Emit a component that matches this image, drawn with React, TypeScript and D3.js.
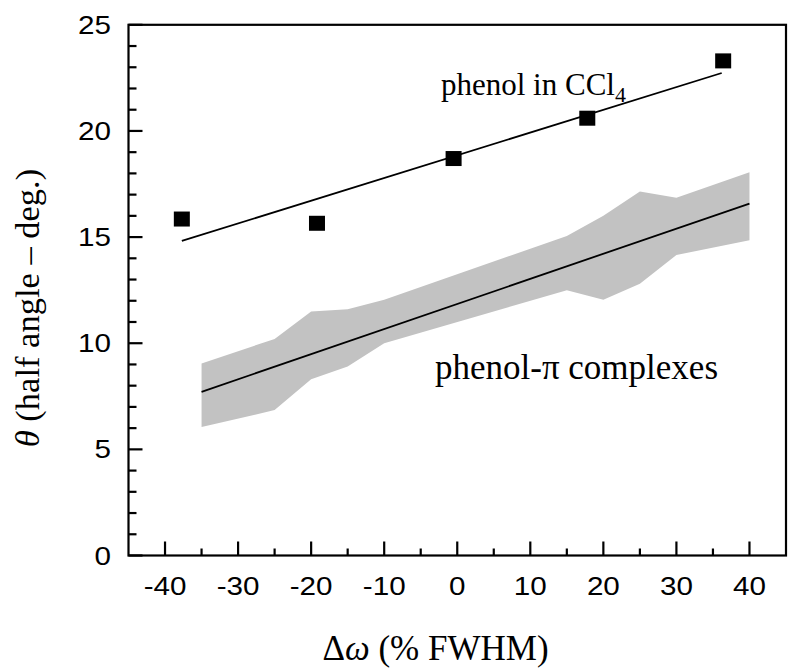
import React from "react";
import * as d3 from "d3";

const phenolX = [-37.7, -19.2, -0.5, 17.8, 36.4];
const phenolY = [15.85, 15.65, 18.7, 20.6, 23.3];
const phenolFitX = [-37.7, 36.2];
const phenolFitY = [14.82, 22.73];

const bandX = [-35, -25, -20, -15, -10, 15, 20, 25, 30, 40];
const bandLow = [6.05, 6.85, 8.3, 8.9, 10.0, 12.5, 12.05, 12.8, 14.15, 14.85];
const bandHigh = [9.05, 10.2, 11.5, 11.6, 12.05, 15.05, 16.0, 17.15, 16.85, 18.05];
const complexFitX = [-35, 40];
const complexFitY = [7.71, 16.58];

const xTicks = [-40, -30, -20, -10, 0, 10, 20, 30, 40];
const xMinor = [-35, -25, -15, -5, 5, 15, 25, 35];
const yTicks = [0, 5, 10, 15, 20, 25];
const yMinor = d3.range(1, 25).filter((v) => v % 5 !== 0);

export default function App() {
  const W = 800, H = 671;
  const x = d3.scaleLinear().domain([-45, 45]).range([128.5, 786]);
  const y = d3.scaleLinear().domain([0, 25]).range([555.5, 24.8]);
  const band = d3
    .area<number>()
    .x((_, i) => x(bandX[i]))
    .y0((_, i) => y(bandLow[i]))
    .y1((_, i) => y(bandHigh[i]));
  const fitPath = (xs: number[], ys: number[]) =>
    d3
      .line<number>()
      .x((d) => x(d))
      .y((_, i) => y(ys[i]))(xs) as string;
  const sans = "'Liberation Sans', Arial, sans-serif";
  const serif = "'Liberation Serif', 'Times New Roman', serif";
  const x0 = x(-45), x1 = x(45), y0 = y(0), y1 = y(25);
  const sx = 1.14;
  return (
    <svg
      width={W}
      height={H}
      style={{ position: "absolute", left: 0, top: 0, background: "#fff" }}
    >
      <rect width={W} height={H} fill="#fff" />
      <path d={band(bandX) as string} fill="#c2c2c2" />
      <path d={fitPath(complexFitX, complexFitY)} stroke="#000" strokeWidth={1.8} fill="none" />
      <path d={fitPath(phenolFitX, phenolFitY)} stroke="#000" strokeWidth={1.8} fill="none" />
      {phenolX.map((v, i) => (
        <rect key={i} x={x(v) - 8} y={y(phenolY[i]) - 7.5} width={16} height={15} fill="#000" />
      ))}
      <rect x={x0} y={y1} width={x1 - x0} height={y0 - y1} fill="none" stroke="#000" strokeWidth={2.2} />
      {xTicks.map((t) => (
        <line key={"xt" + t} x1={x(t)} x2={x(t)} y1={y0} y2={y0 - 14} stroke="#000" strokeWidth={2.2} />
      ))}
      {xMinor.map((t) => (
        <line key={"xm" + t} x1={x(t)} x2={x(t)} y1={y0} y2={y0 - 7} stroke="#000" strokeWidth={2.2} />
      ))}
      {xTicks.map((t) => (
        <text
          key={"xl" + t}
          transform={`translate(${x(t)},595) scale(${sx},1)`}
          textAnchor="middle"
          fontFamily={sans}
          fontSize={26}
        >
          {t}
        </text>
      ))}
      {yTicks.map((t) => (
        <line key={"yt" + t} x1={x0} x2={x0 + 14} y1={y(t)} y2={y(t)} stroke="#000" strokeWidth={2.2} />
      ))}
      {yMinor.map((t) => (
        <line key={"ym" + t} x1={x0} x2={x0 + 8} y1={y(t)} y2={y(t)} stroke="#000" strokeWidth={2.2} />
      ))}
      {yTicks.map((t) => (
        <text
          key={"yl" + t}
          transform={`translate(111,${y(t) + 9}) scale(${sx},1)`}
          textAnchor="end"
          fontFamily={sans}
          fontSize={26}
        >
          {t}
        </text>
      ))}
      <text x={441} y={95} fontFamily={serif} fontSize={31}>
        phenol in CCl<tspan dy={7} fontSize={22}>4</tspan>
      </text>
      <text x={435} y={379} fontFamily={serif} fontSize={35}>
        phenol-π complexes
      </text>
      <text
        transform={`translate(39, 308) rotate(-90)`}
        textAnchor="middle"
        fontFamily={serif}
        fontSize={34.5}
      >
        <tspan fontStyle="italic">θ</tspan> (half angle – deg.)
      </text>
      <text x={435.5} y={660} textAnchor="middle" fontFamily={serif} fontSize={35}>
        Δ<tspan fontStyle="italic">ω</tspan> (% FWHM)
      </text>
    </svg>
  );
}
